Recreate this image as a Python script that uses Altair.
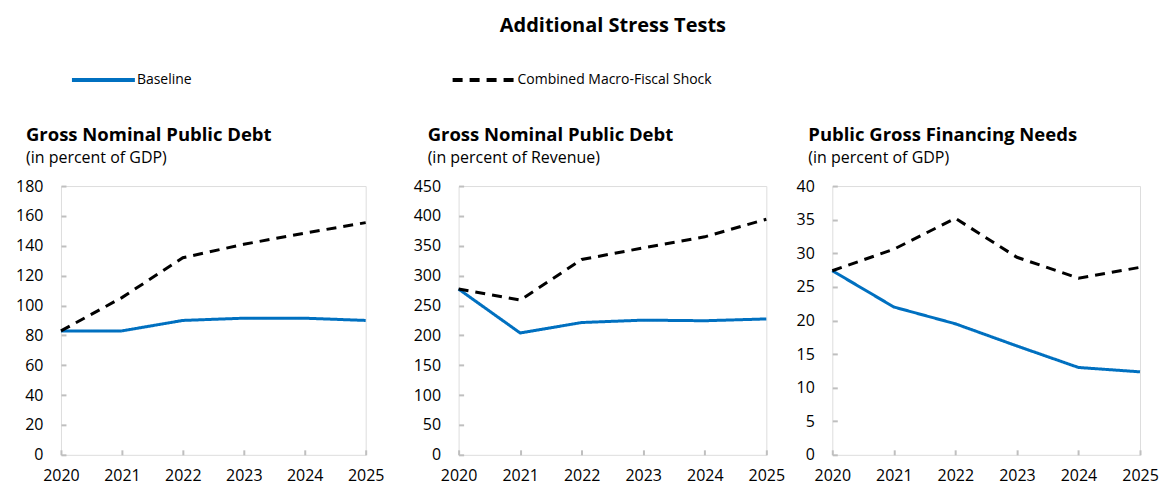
import altair as alt
import pandas as pd

years = [2020, 2021, 2022, 2023, 2024, 2025]
series_names = ["Baseline", "Combined Macro-Fiscal Shock"]

debt_gdp_baseline = [83.0, 83.0, 90.0, 91.5, 91.5, 90.0]
debt_gdp_shock = [83.0, 105.3, 132.0, 141.0, 148.5, 155.5]

debt_rev_baseline = [277.5, 204.0, 221.5, 225.5, 224.5, 227.5]
debt_rev_shock = [277.5, 259.0, 327.0, 346.5, 365.0, 394.5]

gfn_baseline = [27.4, 22.0, 19.5, 16.2, 13.0, 12.35]
gfn_shock = [27.4, 30.6, 35.2, 29.4, 26.3, 27.9]

FONT = "Open Sans"
BLUE = "#0070C0"
GRAY = "#BFBFBF"
H = 269


def make_legend():
    return alt.Legend(
        title=None,
        orient="none",
        legendX=9,
        legendY=-140,
        direction="horizontal",
        symbolType="stroke",
        symbolSize=3969,
        symbolStrokeWidth=4,
        labelFontSize=14,
        labelFont=FONT,
        labelColor="#000000",
        labelOffset=0,
        labelLimit=400,
        columnPadding=253,
    )


def panel(base_vals, shock_vals, ymax, ystep, title, subtitle, dx, width):
    df = pd.DataFrame(
        {
            "year": years * 2,
            "value": base_vals + shock_vals,
            "series": [series_names[0]] * len(years) + [series_names[1]] * len(years),
        }
    )
    return (
        alt.Chart(df)
        .mark_line(strokeWidth=3)
        .encode(
            x=alt.X(
                "year:Q",
                scale=alt.Scale(domain=[2020, 2025], nice=False, zero=False),
                axis=alt.Axis(
                    title=None,
                    values=years,
                    format="d",
                    grid=False,
                    domain=False,
                    offset=-5,
                    tickSize=5,
                    tickColor=GRAY,
                    tickWidth=2,
                    labelPadding=13,
                    labelFontSize=16,
                    labelColor="#000000",
                    labelFont=FONT,
                    labelFlush=False,
                ),
            ),
            y=alt.Y(
                "value:Q",
                scale=alt.Scale(domain=[0, ymax], nice=False),
                axis=alt.Axis(
                    title=None,
                    values=list(range(0, ymax + 1, ystep)),
                    grid=False,
                    domain=False,
                    offset=-5,
                    tickSize=5,
                    tickColor=GRAY,
                    tickWidth=2,
                    labelPadding=18,
                    labelFontSize=16,
                    labelColor="#000000",
                    labelFont=FONT,
                ),
            ),
            color=alt.Color(
                "series:N",
                scale=alt.Scale(domain=series_names, range=[BLUE, "#000000"]),
                legend=make_legend(),
            ),
            strokeDash=alt.StrokeDash(
                "series:N",
                scale=alt.Scale(domain=series_names, range=[[1, 0], [10, 7]]),
                legend=make_legend(),
            ),
        )
        .properties(
            width=width,
            height=H,
            title=alt.TitleParams(
                text=title,
                subtitle=subtitle,
                anchor="start",
                frame="group",
                dx=dx,
                offset=12,
                fontSize=18.5,
                font=FONT,
                fontWeight="bold",
                color="#000000",
                subtitleFontSize=16,
                subtitleFont=FONT,
                subtitleColor="#000000",
                subtitlePadding=6,
            ),
        )
    )


def spacer(width):
    return (
        alt.Chart(pd.DataFrame({"a": [0]}))
        .mark_text(text="", opacity=0)
        .properties(width=width, height=H, view=alt.ViewBackground(stroke="transparent"))
    )


p1 = panel(debt_gdp_baseline, debt_gdp_shock, 180, 20,
           "Gross Nominal Public Debt", "(in percent of GDP)", -35, 305)
p2 = panel(debt_rev_baseline, debt_rev_shock, 450, 50,
           "Gross Nominal Public Debt", "(in percent of Revenue)", -31, 308)
p3 = panel(gfn_baseline, gfn_shock, 40, 5,
           "Public Gross Financing Needs", "(in percent of GDP)", -24, 308)

chart = (
    alt.hconcat(p1, spacer(93), p2, spacer(66), p3, spacing=0, bounds="flush")
    .properties(
        title=alt.TitleParams(
            text="Additional Stress Tests",
            anchor="middle",
            dx=26,
            fontSize=20,
            font=FONT,
            fontWeight="bold",
            color="#000000",
            offset=10,
        ),
        padding={"left": 7, "top": 8, "right": 0, "bottom": 0},
    )
    .configure_view(stroke=GRAY, strokeWidth=2)
    .configure(background="white")
)

chart.save("out.html", embed_options={"renderer": "svg", "actions": False})
